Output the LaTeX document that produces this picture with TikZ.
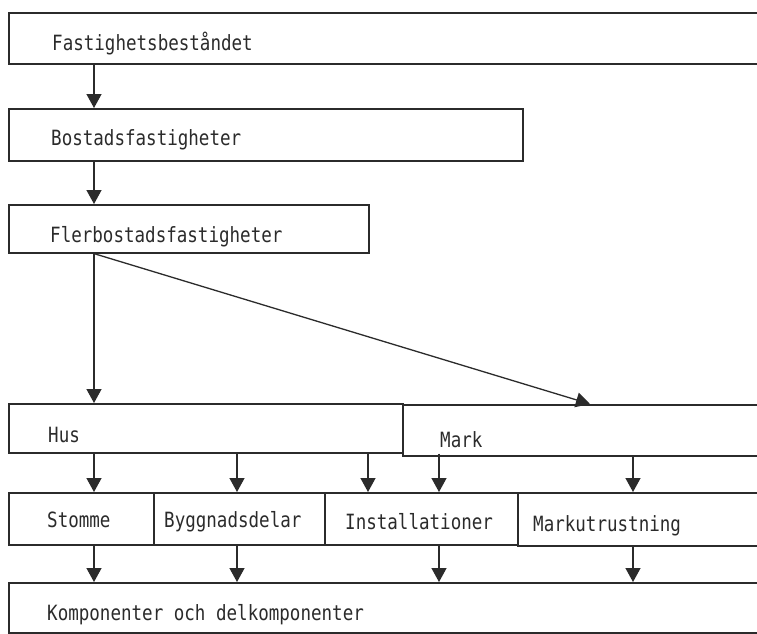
\documentclass[tikz,border=0pt]{standalone}
\usepackage{fontspec}
\setmonofont[FakeStretch=0.835]{DejaVu Sans Mono}
\usetikzlibrary{arrows.meta}
\definecolor{ink}{HTML}{2B2B2B}
\begin{document}
\begin{tikzpicture}[x=1pt,y=-1pt,
  box/.style={draw=ink,line width=1.6pt,rectangle,inner sep=0pt,anchor=north west},
  label/.style={anchor=base west,inner sep=0pt,text=ink,font=\ttfamily\fontsize{21}{24}\selectfont},
  arr/.style={draw=ink,line width=1.3pt,-{Triangle[width=15pt,length=14pt]}}]
\useasboundingbox (0,0) rectangle (757,633);
\clip (0,0) rectangle (757,633);
\fill[white] (0,0) rectangle (757,633);

% level boxes
\node[box,line width=2pt,minimum width=792pt,minimum height=51pt] (fast) at (8,12) {};
\node[box,minimum width=514pt,minimum height=52pt] (bost) at (8,108) {};
\node[box,minimum width=360pt,minimum height=48pt] (fler) at (8,204) {};
\node[box,minimum width=394pt,minimum height=49pt] (hus) at (8,403) {};
\node[box,minimum width=398pt,minimum height=51pt] (mark) at (402,404) {};
\node[box,minimum width=145pt,minimum height=52pt] (stom) at (8,492) {};
\node[box,minimum width=171pt,minimum height=52pt] (bygg) at (153,492) {};
\node[box,minimum width=193pt,minimum height=52pt] (inst) at (324,492) {};
\node[box,minimum width=283pt,minimum height=53pt] (mkut) at (517,492) {};
\node[box,minimum width=792pt,minimum height=50pt] (komp) at (8,582) {};

% box texts
\node[label] (tfast) at (52,50) {Fastighetsbeståndet};
\node[label] (tbost) at (51,145) {Bostadsfastigheter};
\node[label] (tfler) at (50,242) {Flerbostadsfastigheter};
\node[label] (thus) at (48,442) {Hus};
\node[label] (tmark) at (440,447) {Mark};
\node[label] (tstom) at (47,527) {Stomme};
\node[label] (tbygg) at (164,527) {Byggnadsdelar};
\node[label] (tinst) at (345,529) {Installationer};
\node[label] (tmkut) at (533,531) {Markutrustning};
\node[label] (tkomp) at (47,620) {Komponenter och delkomponenter};

% arrow columns
\coordinate (ca) at (94,0);
\coordinate (cb) at (237,0);
\coordinate (cc) at (368,0);
\coordinate (cd) at (439,0);
\coordinate (ce) at (633,0);
\coordinate (cm) at (590,0);

% connectors
\draw[arr] (ca |- fast.south) -- (ca |- bost.north);
\draw[arr] (ca |- bost.south) -- (ca |- fler.north);
\draw[arr] (ca |- fler.south) -- (ca |- hus.north);
\draw[arr] (ca |- fler.south) -- (cm |- mark.north);

\draw[arr] (ca |- hus.south) -- (ca |- stom.north);
\draw[arr] (cb |- hus.south) -- (cb |- bygg.north);
\draw[arr] (cc |- hus.south) -- (cc |- inst.north);
\draw[arr] (cd |- hus.south) -- (cd |- inst.north);
\draw[arr] (ce |- mark.south) -- (ce |- mkut.north);

\draw[arr] (ca |- stom.south) -- (ca |- komp.north);
\draw[arr] (cb |- bygg.south) -- (cb |- komp.north);
\draw[arr] (cd |- inst.south) -- (cd |- komp.north);
\draw[arr] (ce |- mkut.south) -- (ce |- komp.north);
\end{tikzpicture}
\end{document}
